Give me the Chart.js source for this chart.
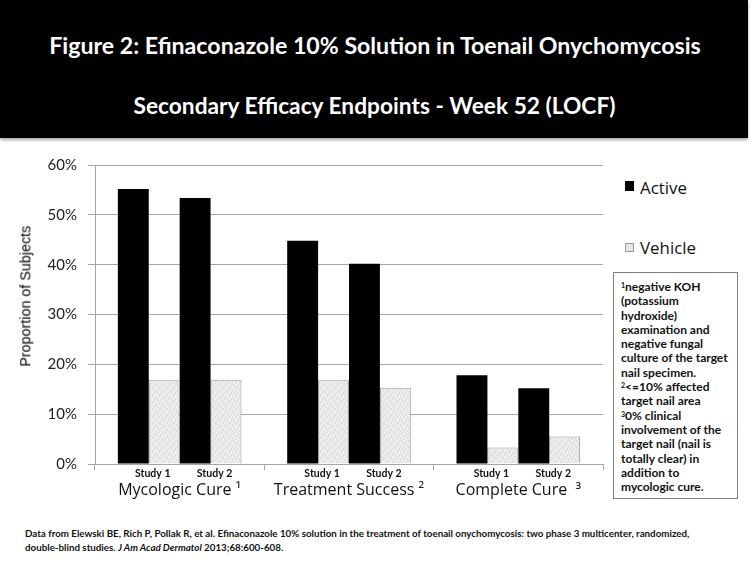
<!DOCTYPE html>
<html><head><meta charset="utf-8">
<script src="https://cdn.jsdelivr.net/npm/chart.js@4"></script>
<style>
html,body{margin:0;padding:0;background:#fff;}
#page{position:relative;width:750px;height:563px;overflow:hidden;background:#fff;font-family:Lato,sans-serif;}
#header{position:absolute;left:0;top:0;width:748px;height:138px;background:#000;box-shadow:0 2px 3px rgba(0,0,0,0.35);}
.t{position:absolute;white-space:nowrap;line-height:1;}
#h1,#h2{color:#fff;font-weight:700;}
#chartWrap{position:absolute;left:0;top:140px;width:612px;height:375px;}
#ytitle{font-family:"Liberation Sans",Arial,sans-serif;color:#000;}
.sw{position:absolute;}
#swA{left:625px;top:181px;width:9px;height:10px;background:#000;}
#swV{left:625px;top:243px;width:7px;height:7px;border:1px solid #999;background:#e6e6e6;}
.leg{color:#111;font-weight:400;font-family:"Open Sans",sans-serif;}
#note{position:absolute;left:613px;top:272px;border:1px solid #7f7f7f;
  font-family:Lato,sans-serif;font-weight:700;font-size:12px;line-height:14.3px;color:#111;padding:7px 0 0 7px;box-sizing:border-box;width:125px;height:227px;}
#note sup{font-size:7px;vertical-align:top;line-height:10px;}
.cite{color:#111;font-weight:700;}
</style></head>
<body><div id="page">
<div id="header"></div>
<div class="t" id="h1">Figure 2: Efinaconazole 10% Solution in Toenail Onychomycosis</div>
<div class="t" id="h2">Secondary Efficacy Endpoints - Week 52 (LOCF)</div>
<div id="chartWrap"><canvas id="c" width="612" height="375"></canvas></div>
<div class="t" id="ytitle">Proportion of Subjects</div>
<div class="sw" id="swA"></div>
<div class="t leg" id="legA">Active</div>
<div class="sw" id="swV"></div>
<div class="t leg" id="legV">Vehicle</div>
<div id="note"><sup>1</sup>negative KOH<br>(potassium<br>hydroxide)<br>examination and<br>negative fungal<br>culture of the target<br>nail specimen.<br><sup>2</sup>&lt;=10% affected<br>target nail area<br><sup>3</sup>0% clinical<br>involvement of the<br>target nail (nail is<br>totally clear) in<br>addition to<br>mycologic cure.</div>
<div class="t cite" id="cite1">Data from Elewski BE, Rich P, Pollak R, et al. Efinaconazole 10% solution in the treatment of toenail onychomycosis: two phase 3 multicenter, randomized,</div>
<div class="t cite" id="cite2">double-blind studies. <i>J Am Acad Dermatol</i> 2013;68:600-608.</div>
</div>
<script>
// ---- data ----
const categories = ['Mycologic Cure \u00B9', 'Treatment Success \u00B2', 'Complete Cure  \u00B3'];
const studyLabels = ['Study 1', 'Study 2'];
const seriesNames = ['Active', 'Vehicle'];
const activeStudy1 = [55.2, 44.8, 17.8];
const vehicleStudy1 = [16.8, 16.8, 3.3];
const activeStudy2 = [53.4, 40.2, 15.2];
const vehicleStudy2 = [16.9, 15.3, 5.5];
const yTickValues = [0, 10, 20, 30, 40, 50, 60];

// ---- text placement helpers ----
function put(id, o){
  const el = document.getElementById(id);
  el.style.fontSize = '100px';
  const w0 = el.getBoundingClientRect().width;
  const s = o.size || 100 * o.w / w0;
  el.style.fontSize = s + 'px';
  const capC = 0.529 * s;
  el.style.top = (o.cy - capC) + 'px';
  const w = el.getBoundingClientRect().width;
  el.style.left = (o.cx !== undefined ? o.cx - w / 2 : o.x) + 'px';
  let tr = '';
  if (o.cap) tr += 'scaleY(' + (o.cap / (0.7165 * s)) + ')';
  el.style.transformOrigin = '50% ' + capC + 'px';
  el.style.transform = tr;
  return s;
}
put('h1', {cx: 375, cy: 46.5, w: 652, cap: 16.5});
put('h2', {cx: 374.5, cy: 107.5, w: 482, cap: 16.5});
put('legA', {x: 640, cy: 189, w: 47});
put('legV', {x: 640, cy: 249, w: 56});
const cs = put('cite1', {x: 25, cy: 534, w: 665});
put('cite2', {x: 25, cy: 548, size: cs});
(function(){
  const el = document.getElementById('ytitle');
  el.style.fontSize = '100px';
  const w0 = el.getBoundingClientRect().width;
  const s = 100 * 141 / w0;
  el.style.fontSize = s + 'px';
  const r = el.getBoundingClientRect();
  el.style.left = (25 - r.width / 2) + 'px';
  el.style.top = (296.5 - r.height / 2) + 'px';
  el.style.transformOrigin = '50% 50%';
  el.style.transform = 'rotate(-90deg)';
})();

// ---- vehicle fill pattern (fixed stipple tile) ----
function makePattern(){
  const t = document.createElement('canvas');
  t.width = 7; t.height = 7;
  const g = t.getContext('2d');
  g.fillStyle = '#e9e9e9'; g.fillRect(0, 0, 7, 7);
  g.fillStyle = '#d2d2d2';
  [[0,0],[3,1],[6,2],[1,4],[4,5],[2,6],[5,3]].forEach(p => g.fillRect(p[0], p[1], 1, 1));
  g.fillStyle = '#f6f6f6';
  [[1,1],[5,0],[0,3],[3,4],[6,5],[2,2],[4,6]].forEach(p => g.fillRect(p[0], p[1], 1, 1));
  return document.getElementById('c').getContext('2d').createPattern(t, 'repeat');
}
const vehFill = makePattern();

const studyPlugin = {
  id: 'studyLabels',
  afterDatasetsDraw(chart){
    const ctx = chart.ctx;
    ctx.save();
    ctx.font = 'bold 10.5px Lato';
    ctx.fillStyle = '#111';
    ctx.textAlign = 'center';
    ctx.textBaseline = 'middle';
    const pairs = [[0, 1], [2, 3]];
    const y = chart.chartArea.bottom + 9.5;
    categories.forEach((c, i) => {
      pairs.forEach((p, k) => {
        const a = chart.getDatasetMeta(p[0]).data[i];
        const b = chart.getDatasetMeta(p[1]).data[i];
        ctx.fillText(studyLabels[k], (a.x + b.x) / 2 + 4, y);
      });
    });
    ctx.restore();
  }
};

const barCommon = {categoryPercentage: 0.73, barPercentage: 1.0};
new Chart(document.getElementById('c'), {
  type: 'bar',
  data: {
    labels: categories,
    datasets: [
      Object.assign({label: seriesNames[0] + ' ' + studyLabels[0], data: activeStudy1, backgroundColor: '#000', borderWidth: 0}, barCommon),
      Object.assign({label: seriesNames[1] + ' ' + studyLabels[0], data: vehicleStudy1, backgroundColor: vehFill, borderColor: '#9a9a9a', borderWidth: 1}, barCommon),
      Object.assign({label: seriesNames[0] + ' ' + studyLabels[1], data: activeStudy2, backgroundColor: '#000', borderWidth: 0}, barCommon),
      Object.assign({label: seriesNames[1] + ' ' + studyLabels[1], data: vehicleStudy2, backgroundColor: vehFill, borderColor: '#9a9a9a', borderWidth: 1}, barCommon)
    ]
  },
  options: {
    responsive: false,
    animation: false,
    devicePixelRatio: 1,
    layout: {padding: {left: 0, top: 25, right: 9, bottom: 0}},
    plugins: {legend: {display: false}, tooltip: {enabled: false}, title: {display: false}},
    scales: {
      x: {
        ticks: {font: {family: 'Open Sans', size: 16}, color: '#111', padding: 11, maxRotation: 0, autoSkip: false},
        grid: {display: true, drawOnChartArea: false, tickLength: 6, color: '#a6a6a6', offset: true},
        border: {display: true, color: '#a6a6a6'},
        afterFit(s){ s.height = 51; }
      },
      y: {
        min: yTickValues[0], max: yTickValues[yTickValues.length - 1],
        afterBuildTicks(s){ s.ticks = yTickValues.map(v => ({value: v})); },
        ticks: {callback: v => v + '%', font: {family: 'Lato', size: 15}, color: '#222', padding: 11},
        grid: {color: '#a6a6a6', lineWidth: 1, tickLength: 7},
        border: {display: true, color: '#a6a6a6'},
        afterFit(s){ s.width = 95; }
      }
    }
  },
  plugins: [studyPlugin]
});
</script>
</body></html>
